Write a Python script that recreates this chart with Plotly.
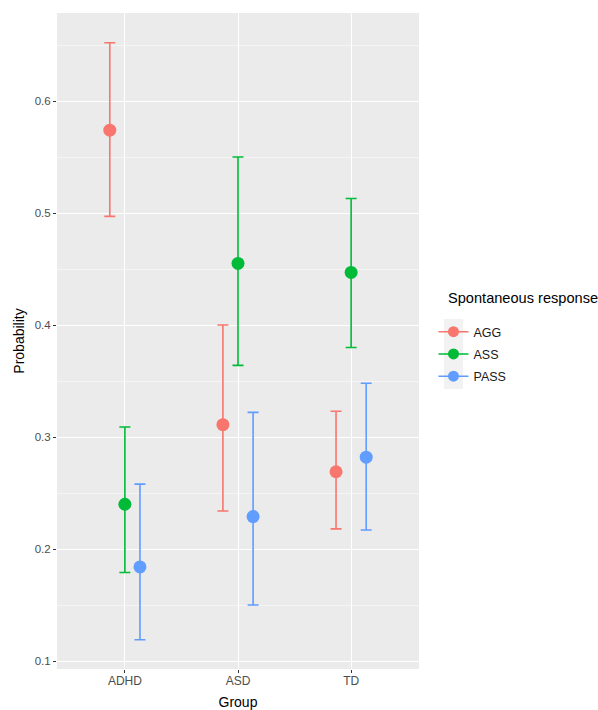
import plotly.graph_objects as go

# Group labels and response types
groups = ["ADHD", "ASD", "TD"]
responses = ["AGG", "ASS", "PASS"]

# Estimated probability with lower / upper interval bounds, per response
agg_est = [0.574, 0.311, 0.269]
agg_lo = [0.497, 0.234, 0.218]
agg_hi = [0.652, 0.400, 0.323]

ass_est = [0.240, 0.455, 0.447]
ass_lo = [0.179, 0.364, 0.380]
ass_hi = [0.309, 0.550, 0.513]

pass_est = [0.184, 0.229, 0.282]
pass_lo = [0.119, 0.150, 0.217]
pass_hi = [0.258, 0.322, 0.348]

y_ticks = [0.1, 0.2, 0.3, 0.4, 0.5, 0.6]

series = [
    ("AGG", agg_est, agg_lo, agg_hi, "#F8766D"),
    ("ASS", ass_est, ass_lo, ass_hi, "#00BA38"),
    ("PASS", pass_est, pass_lo, pass_hi, "#619CFF"),
]

dodge = 0.4
n = len(series)
fig = go.Figure()

for k, (name, est, lo, hi, color) in enumerate(series):
    offset = (k - (n - 1) / 2) * dodge / n
    xs = [i + 1 + offset for i in range(len(groups))]
    fig.add_trace(go.Scatter(
        x=xs, y=est, mode="markers", name=name, showlegend=False,
        marker=dict(color=color, size=13, line=dict(width=0)),
        error_y=dict(type="data", symmetric=False,
                     array=[h - e for h, e in zip(hi, est)],
                     arrayminus=[e - l for e, l in zip(est, lo)],
                     color=color, thickness=1.6, width=5.5),
        hoverinfo="skip",
    ))
    # legend key: point with a horizontal stroke
    fig.add_trace(go.Scatter(
        x=[None], y=[None], mode="lines+markers", name=name,
        legendgroup=name,
        marker=dict(color=color, size=11),
        line=dict(color=color, width=1.5),
    ))

# paper-coordinate helpers for the legend area (plot area spans 57..419 x 13..669 px)
def px_x(p):
    return (p - 57) / 362

def px_y(p):
    return (669 - p) / 656

fig.add_shape(type="rect", xref="paper", yref="paper",
              x0=px_x(444), x1=px_x(463), y0=px_y(389), y1=px_y(319),
              fillcolor="#F2F2F2", line=dict(width=0), layer="below")

fig.add_annotation(text="Spontaneous response", xref="paper", yref="paper",
                   x=px_x(446), y=px_y(298), xanchor="left", yanchor="middle",
                   showarrow=False, font=dict(size=14.6, color="#000000"))

fig.update_layout(
    width=598, height=710,
    margin=dict(l=57, r=179, t=13, b=41, autoexpand=False),
    paper_bgcolor="white",
    plot_bgcolor="#EBEBEB",
    font=dict(family="Liberation Sans, Arial, sans-serif", color="#000000"),
    legend=dict(
        x=1.04, xanchor="left", y=px_y(317), yanchor="top",
        font=dict(size=12.5, color="#1A1A1A"),
        bgcolor="rgba(0,0,0,0)",
        itemwidth=30,
        tracegroupgap=3,
    ),
    xaxis=dict(
        range=[0.4, 3.6], automargin=False,
        tickmode="array", tickvals=[1, 2, 3], ticktext=groups,
        showgrid=True, gridcolor="white", gridwidth=1.1,
        zeroline=False, showline=False,
        ticks="outside", ticklen=3, tickcolor="#333333", tickwidth=1,
        ticklabelstandoff=-2,
        tickfont=dict(size=12, color="#4D4D4D"),
        title=dict(text="Group", font=dict(size=14, color="#000000"), standoff=16),
    ),
    yaxis=dict(
        range=[0.0929, 0.6786], automargin=False,
        tickmode="array", tickvals=y_ticks,
        ticktext=[f"{v:.1f}" for v in y_ticks],
        showgrid=True, gridcolor="white", gridwidth=1.1,
        minor=dict(tickmode="array", tickvals=[0.15, 0.25, 0.35, 0.45, 0.55, 0.65],
                   showgrid=True, gridcolor="#F5F5F5", gridwidth=0.6, ticks=""),
        zeroline=False, showline=False,
        ticks="outside", ticklen=3, tickcolor="#333333", tickwidth=1,
        tickfont=dict(size=11.5, color="#4D4D4D"),
        title=dict(text="Probability", font=dict(size=14, color="#000000"), standoff=6),
    ),
)

fig.write_html("out.html")
